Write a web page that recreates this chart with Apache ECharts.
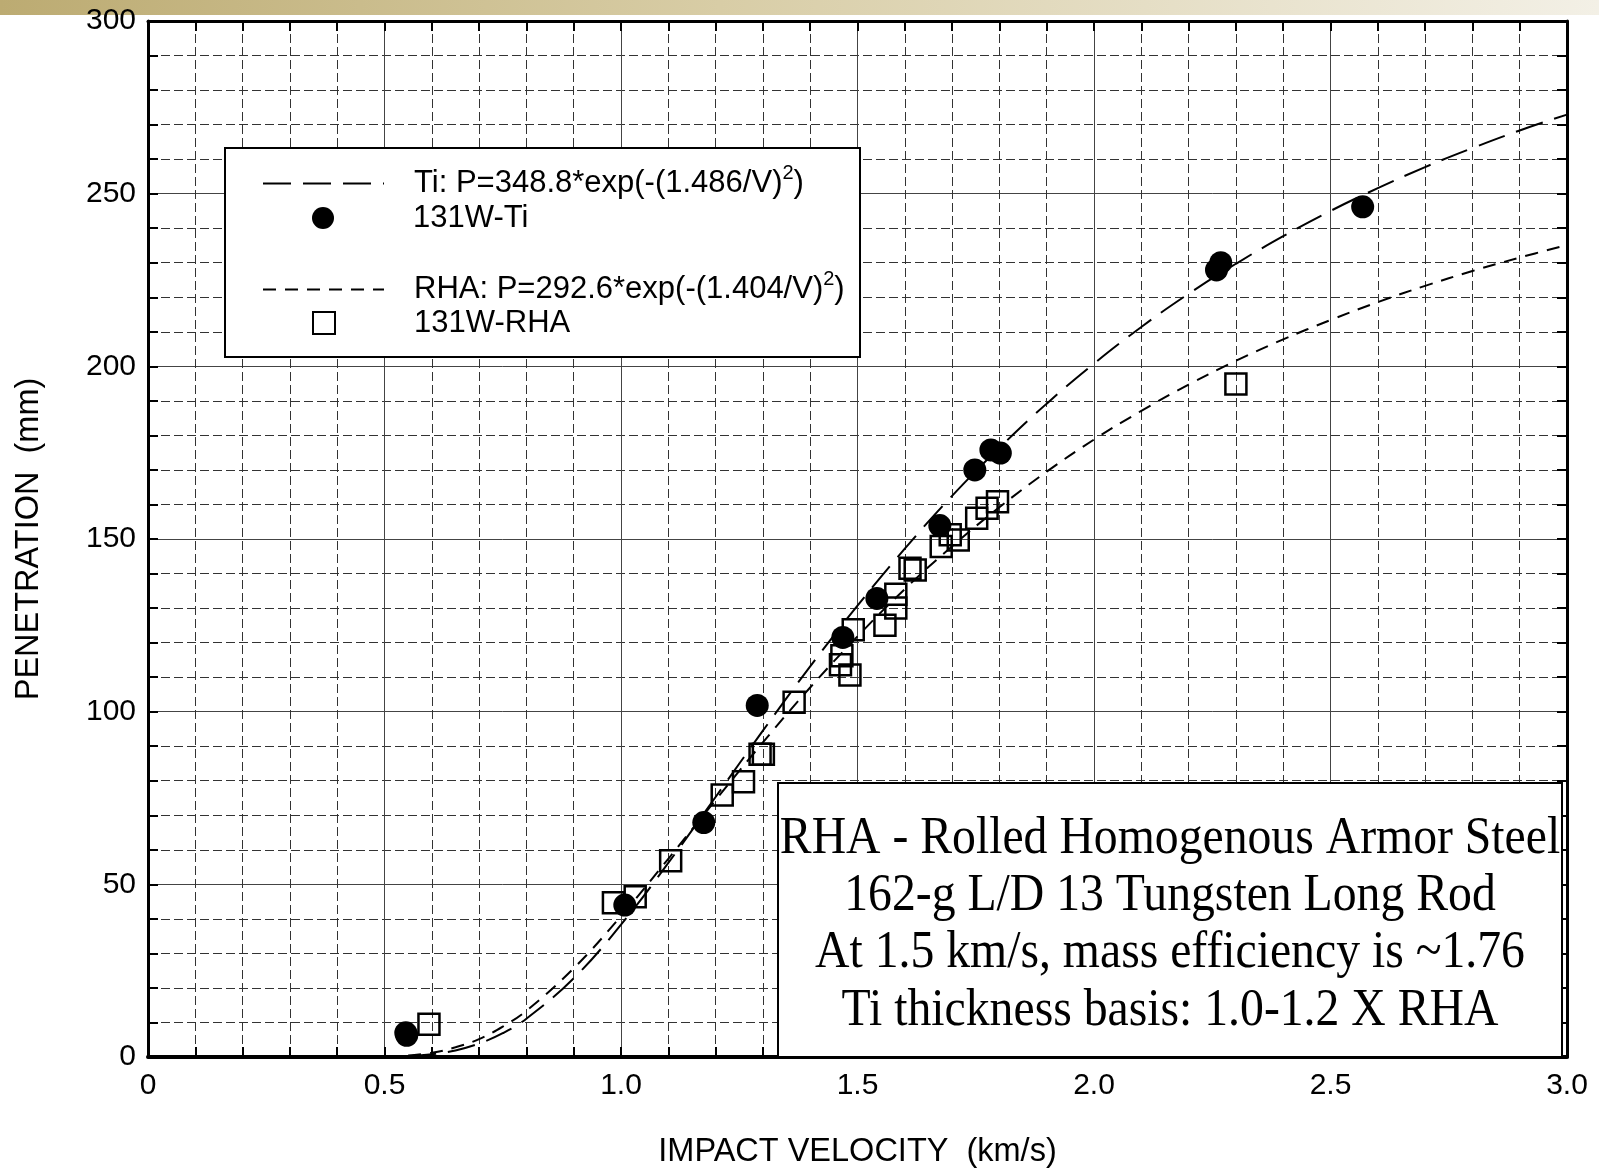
<!DOCTYPE html>
<html>
<head>
<meta charset="utf-8">
<title>Penetration vs impact velocity</title>
<script src="https://cdn.jsdelivr.net/npm/echarts@6/dist/echarts.min.js"></script>
<style>
  html, body { margin: 0; padding: 0; background: #ffffff; }
  #chart { width: 1599px; height: 1168px; }
</style>
</head>
<body>
<div id="chart"></div>
<script>
// ---- data ----
// tungsten rod into titanium: measured points
const tiV = [0.545, 0.547, 1.008, 1.175, 1.288, 1.469, 1.541, 1.674, 1.748, 1.782, 1.802, 2.259, 2.268, 2.568];
const tiP = [7.0, 6.3, 44.0, 67.9, 101.8, 121.5, 132.8, 153.9, 170.0, 175.8, 174.9, 227.9, 230.0, 246.2];

// tungsten rod into rolled homogeneous armor: measured points
const rhaV = [0.594, 0.984, 1.030, 1.105, 1.214, 1.259, 1.294, 1.301, 1.366, 1.464, 1.467, 1.484, 1.491,
              1.558, 1.581, 1.581, 1.611, 1.622, 1.677, 1.696, 1.713, 1.752, 1.774, 1.796, 2.300];
const rhaP = [9.5, 44.7, 46.4, 56.8, 75.9, 79.7, 87.7, 87.7, 102.7, 113.6, 116.2, 110.6, 123.7,
              125.0, 130.0, 134.0, 141.5, 141.0, 147.8, 151.2, 149.7, 156.0, 158.9, 160.8, 194.9];

// fitted curves, sampled along velocity
const fitV  = [0.55, 0.6, 0.65, 0.7, 0.75, 0.8, 0.9, 1.0, 1.1, 1.2, 1.3, 1.4, 1.5, 1.6, 1.7, 1.8, 1.9,
               2.0, 2.1, 2.2, 2.3, 2.4, 2.5, 2.6, 2.7, 2.8, 2.9, 3.0];
const tiFit = [0.2, 0.8, 1.9, 3.9, 6.9, 11.1, 22.8, 38.3, 56.2, 75.3, 94.5, 113.1, 130.7, 147.2, 162.5, 176.4, 189.2,
               200.8, 211.4, 221.0, 229.7, 237.7, 245.0, 251.6, 257.7, 263.2, 268.3, 272.9];
const rhaFit = [0.4, 1.2, 2.8, 5.2, 8.8, 13.4, 25.7, 40.8, 57.4, 74.4, 91.1, 107.0, 121.8, 135.5, 147.9, 159.2, 169.5,
                178.8, 187.1, 194.7, 201.6, 207.8, 213.4, 218.6, 223.3, 227.6, 231.5, 235.1];

// axis tick labels
const xTickLabels = ['0', '0.5', '1.0', '1.5', '2.0', '2.5', '3.0'];
const yTickLabels = ['0', '50', '100', '150', '200', '250', '300'];

// text block
const noteLines = [
  'RHA - Rolled Homogenous Armor Steel',
  '162-g L/D 13 Tungsten Long Rod',
  'At 1.5 km/s, mass efficiency is ~1.76',
  'Ti thickness basis: 1.0-1.2 X RHA'
];

const NAME_TI_FIT = 'Ti fit';
const NAME_TI = '131W-Ti';
const NAME_RHA_FIT = 'RHA fit';
const NAME_RHA = '131W-RHA';
const legendText = {};
legendText[NAME_TI_FIT] = 'Ti: P=348.8*exp(-(1.486/V){sup|2})';
legendText[NAME_TI] = '131W-Ti';
legendText[NAME_RHA_FIT] = 'RHA: P=292.6*exp(-(1.404/V){sup|2})';
legendText[NAME_RHA] = '131W-RHA';

const SANS = '"Liberation Sans", Arial, Helvetica, sans-serif';
const SERIF = '"Liberation Serif", "Times New Roman", Times, serif';

const zip = (a, b) => a.map((v, i) => [v, b[i]]);

function legendBlock(name, left, centerY, iconW, textPad, hideSymbol) {
  const block = {
    data: [name],
    orient: 'vertical',
    left: left,
    top: centerY - 20,
    padding: 0,
    itemWidth: iconW,
    itemHeight: 22,
    selectedMode: false,
    formatter: n => legendText[n],
    textStyle: {
      fontFamily: SANS,
      fontSize: 31,
      lineHeight: 40,
      color: '#000',
      padding: [0, 0, 0, textPad],
      rich: {
        sup: { fontFamily: SANS, fontSize: 20, lineHeight: 20, verticalAlign: 'top', color: '#000' }
      }
    },
    z: 6
  };
  if (hideSymbol) {
    // line-only swatch
    block.itemStyle = { opacity: 0 };
  }
  return block;
}

const chart = echarts.init(document.getElementById('chart'), null, { renderer: 'canvas' });

const minorGrid = { show: true, lineStyle: { color: '#333', width: 1, type: [9, 4] } };
const tickStyle = { color: '#000', width: 2 };

chart.setOption({
  animation: false,
  backgroundColor: '#ffffff',
  textStyle: { fontFamily: SANS, color: '#000' },
  grid: { left: 148, top: 21, right: 32, bottom: 111, containLabel: false, outerBoundsMode: 'none' },
  xAxis: [
    {
      type: 'value', min: 0, max: 3, interval: 0.5, position: 'bottom',
      name: 'IMPACT VELOCITY  (km/s)', nameLocation: 'middle', nameGap: 79,
      nameTextStyle: { fontFamily: SANS, fontSize: 32.5, color: '#000' },
      axisLine: { show: true, onZero: false, lineStyle: { color: '#000', width: 4 } },
      axisTick: { show: true, inside: true, length: 10, lineStyle: tickStyle },
      minorTick: { show: true, splitNumber: 5, length: 10, lineStyle: tickStyle },
      axisLabel: {
        fontFamily: SANS, fontSize: 30, color: '#000', margin: 14,
        formatter: v => xTickLabels[Math.round(v / 0.5)]
      },
      splitLine: { show: true, lineStyle: { color: '#444', width: 1 } },
      minorSplitLine: minorGrid
    },
    {
      type: 'value', min: 0, max: 3, interval: 0.5, position: 'top',
      axisLine: { show: true, onZero: false, lineStyle: { color: '#000', width: 3 } },
      axisTick: { show: true, inside: true, length: 10, lineStyle: tickStyle },
      minorTick: { show: true, splitNumber: 5, length: 10, lineStyle: tickStyle },
      axisLabel: { show: false },
      splitLine: { show: false }
    }
  ],
  yAxis: [
    {
      type: 'value', min: 0, max: 300, interval: 50, position: 'left',
      name: 'PENETRATION  (mm)', nameLocation: 'middle', nameGap: 102,
      nameTextStyle: { fontFamily: SANS, fontSize: 32.5, color: '#000' },
      axisLine: { show: true, onZero: false, lineStyle: { color: '#000', width: 3 } },
      axisTick: { show: true, inside: true, length: 10, lineStyle: tickStyle },
      minorTick: { show: true, splitNumber: 5, length: 10, lineStyle: tickStyle },
      axisLabel: {
        fontFamily: SANS, fontSize: 30, color: '#000', margin: 12,
        formatter: v => yTickLabels[Math.round(v / 50)]
      },
      splitLine: { show: true, lineStyle: { color: '#444', width: 1 } },
      minorSplitLine: minorGrid
    },
    {
      type: 'value', min: 0, max: 300, interval: 50, position: 'right',
      axisLine: { show: true, onZero: false, lineStyle: { color: '#000', width: 3 } },
      axisTick: { show: true, inside: true, length: 10, lineStyle: tickStyle },
      minorTick: { show: true, splitNumber: 5, length: 10, lineStyle: tickStyle },
      axisLabel: { show: false },
      splitLine: { show: false }
    }
  ],
  legend: [
    legendBlock(NAME_TI_FIT, 262, 183.5, 121, 25, true),
    legendBlock(NAME_TI, 312, 218, 22, 74, false),
    legendBlock(NAME_RHA_FIT, 262, 289.5, 121, 25, true),
    legendBlock(NAME_RHA, 312, 323, 22, 74, false)
  ],
  series: [
    {
      name: NAME_TI_FIT, type: 'line', data: zip(fitV, tiFit),
      smooth: 0.4, symbol: 'none', silent: true,
      lineStyle: { color: '#000', width: 2, type: [28, 12] }, itemStyle: { color: '#000' }, z: 2
    },
    {
      name: NAME_RHA_FIT, type: 'line', data: zip(fitV, rhaFit),
      smooth: 0.4, symbol: 'none', silent: true,
      lineStyle: { color: '#000', width: 2, type: [13, 9] }, itemStyle: { color: '#000' }, z: 2
    },
    {
      name: NAME_RHA, type: 'scatter', data: zip(rhaV, rhaP),
      symbol: 'rect', symbolSize: 21, silent: true,
      itemStyle: { color: 'rgba(0,0,0,0)', borderColor: '#000', borderWidth: 2.5, opacity: 1 }, z: 3
    },
    {
      name: NAME_TI, type: 'scatter', data: zip(tiV, tiP),
      symbol: 'circle', symbolSize: 23, silent: true,
      itemStyle: { color: '#000', opacity: 1 }, z: 4
    }
  ],
  graphic: {
    elements: [
      {
        type: 'rect', z: -5, silent: true,
        shape: { x: 0, y: 0, width: 1599, height: 15 },
        style: {
          fill: new echarts.graphic.LinearGradient(0, 0, 1, 0, [
            { offset: 0, color: '#bcab72' },
            { offset: 0.45, color: '#d8cda6' },
            { offset: 1, color: '#f3f0e6' }
          ])
        }
      },
      {
        type: 'rect', z: 5, silent: true,
        shape: { x: 225, y: 148, width: 635, height: 209 },
        style: { fill: '#fff', stroke: '#000', lineWidth: 2 }
      },
      {
        type: 'rect', z: 5, silent: true,
        shape: { x: 778, y: 783, width: 784, height: 274 },
        style: { fill: '#fff', stroke: '#000', lineWidth: 2 }
      }
    ].concat(noteLines.map((t, i) => ({
      type: 'text', z: 6, silent: true,
      x: 1170, y: [839, 896.5, 953.5, 1011.5][i],
      scaleX: 0.9,
      style: {
        text: t, fontFamily: SERIF, fontSize: 53, fill: '#000',
        align: 'center', verticalAlign: 'middle',
        textAlign: 'center', textVerticalAlign: 'middle'
      }
    })))
  }
});
</script>
</body>
</html>
